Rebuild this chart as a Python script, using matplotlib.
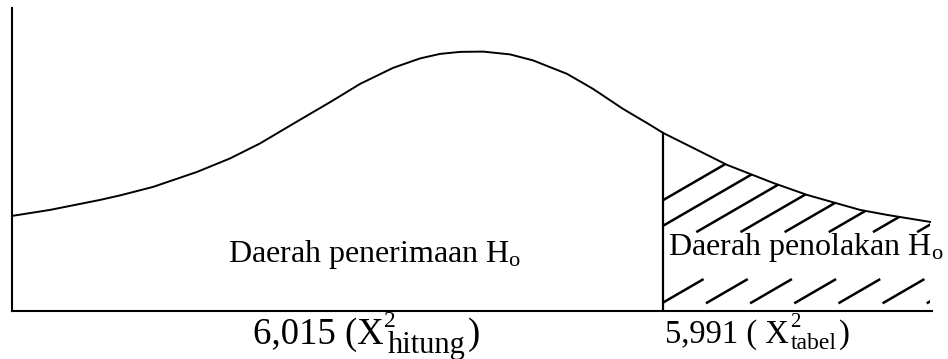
import numpy as np
import matplotlib.pyplot as plt

plt.rcParams['font.family'] = ['Liberation Serif', 'DejaVu Serif']
plt.rcParams['mathtext.fontset'] = 'custom'
plt.rcParams['mathtext.rm'] = 'Liberation Serif'
plt.rcParams['mathtext.it'] = 'Liberation Serif:italic'

# distribution curve (arbitrary units, axis runs 0..100 both ways)
curve_x = [0, 4.13, 9.57, 11.74, 15.33, 20.11, 23.70, 26.96, 30.54, 34.89, 37.83,
           41.41, 44.35, 46.52, 48.70, 51.20, 54.13, 56.63, 60.33, 63.15, 66.41,
           69.35, 70.76, 74.46, 77.72, 82.72, 86.41, 92.17, 95.11, 99.78]
curve_y = [31.35, 33.33, 36.63, 38.12, 40.92, 45.87, 50.33, 55.28, 61.72, 69.47, 74.92,
           80.20, 83.33, 84.82, 85.48, 85.58, 84.65, 82.67, 78.22, 73.27, 66.67,
           61.39, 58.75, 53.14, 48.18, 42.24, 38.28, 33.33, 31.68, 29.37]

critical_x = 70.76  # boundary between the two regions
accept_label = r'Daerah penerimaan H$_{\mathrm{o}}$'
reject_label = r'Daerah penolakan H$_{\mathrm{o}}$'
# value labels: (main text, superscript, subscript)
hitung_label = ('6,015 (X', '2', 'hitung')
tabel_label = ('5,991 ( X', '2', 'tabel')

fig = plt.figure(figsize=(9.48, 3.59), dpi=100)
ax = fig.add_axes([0.0127, 0.134, 0.9705, 0.844])
ax.set_xlim(0, 100)
ax.set_ylim(0, 100)

for s in ['top', 'right']:
    ax.spines[s].set_visible(False)
for s in ['left', 'bottom']:
    ax.spines[s].set_linewidth(1.5)
    ax.spines[s].set_color('black')
ax.set_xticks([])
ax.set_yticks([])

cx = np.array(curve_x)
cy = np.array(curve_y)
ax.plot(cx, cy, color='black', lw=1.4, zorder=3)

# vertical line at the critical value
y_crit = np.interp(critical_x, cx, cy)
ax.plot([critical_x, critical_x], [0, y_crit], color='black', lw=1.6, zorder=3)

# rejection region, used as clip path for the hatching
mask = cx > critical_x
px = np.concatenate([[critical_x], cx[mask], [cx[-1], critical_x]])
py = np.concatenate([[y_crit], cy[mask], [0, 0]])
clip = plt.Polygon(np.column_stack([px, py]), closed=True, fill=False, lw=0,
                   transform=ax.transData)
ax.add_patch(clip)

# diagonal hatch, broken where the label sits
k = 1.76
bands = [(2.5, 10.5), (26.0, 100.0)]
for x0 in np.arange(50.0, 105.0, 4.8):
    for y0, y1 in bands:
        xs = [x0 + y0 / k, x0 + y1 / k]
        ys = [y0, y1]
        ln, = ax.plot(xs, ys, color='black', lw=1.8, zorder=2,
                      solid_capstyle='butt')
        ln.set_clip_path(clip)

ax.text(23.5, 16.3, accept_label, fontsize=23, ha='left', va='baseline')
ax.text(71.3, 18.5, reject_label, fontsize=23, ha='left', va='baseline')


def value_label(x, y, parts, fs, sub_fs, sup_fs, gap=1.5, drop=1.0):
    main, sup, sub = parts
    t = ax.text(x, y, main, fontsize=fs, ha='left', va='baseline', clip_on=False)
    ax.annotate(sup, xy=(1, 1), xycoords=t, xytext=(0.5, 5),
                textcoords='offset points', fontsize=sup_fs, ha='left', va='top')
    s = ax.annotate(sub, xy=(1, 0), xycoords=t, xytext=(gap, drop),
                    textcoords='offset points', fontsize=sub_fs,
                    ha='left', va='baseline')
    ax.annotate(')', xy=(1, 0), xycoords=(s, t), xytext=(1.5, 0),
                textcoords='offset points', fontsize=fs, ha='left', va='bottom')


value_label(26.2, -11.0, hitung_label, fs=26.5, sub_fs=22, sup_fs=17, gap=3, drop=-0.5)
value_label(71.0, -10.6, tabel_label, fs=23.5, sub_fs=17, sup_fs=15)

fig.savefig('out.png', dpi=100)
